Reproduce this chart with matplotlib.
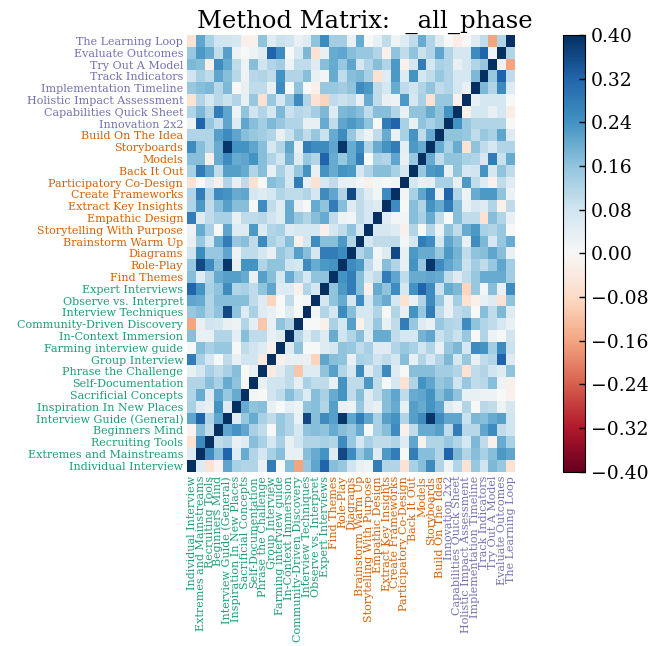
import numpy as np
import matplotlib
matplotlib.use("Agg")
import matplotlib.pyplot as plt
from matplotlib.ticker import FuncFormatter

# method names, bottom row / left column first
methods = ["Individual Interview", "Extremes and Mainstreams", "Recruiting Tools",
           "Beginners Mind", "Interview Guide (General)", "Inspiration In New Places",
           "Sacrificial Concepts", "Self-Documentation", "Phrase the Challenge",
           "Group Interview", "Farming interview guide", "In-Context Immersion",
           "Community-Driven Discovery", "Interview Techniques", "Observe vs. Interpret",
           "Expert Interviews", "Find Themes", "Role-Play", "Diagrams",
           "Brainstorm Warm Up", "Storytelling With Purpose", "Empathic Design",
           "Extract Key Insights", "Create Frameworks", "Participatory Co-Design",
           "Back It Out", "Models", "Storyboards", "Build On The Idea", "Innovation 2x2",
           "Capabilities Quick Sheet", "Holistic Impact Assessment",
           "Implementation Timeline", "Track Indicators", "Try Out A Model",
           "Evaluate Outcomes", "The Learning Loop"]

# phase of each method (0 discovery, 1 ideation, 2 implementation)
phases = [0] * 16 + [1] * 13 + [2] * 8
phase_colors = ["#1b9e77", "#d95f02", "#7570b3"]

# lower triangle of the correlation matrix, row r holds columns 0..r-1
corr_lower = [
    [0.05],
    [-0.06, 0.25],
    [-0.01, 0.17, 0.10],
    [0.21, 0.32, 0.12, 0.21],
    [0.13, 0.05, 0.03, 0.24, 0.05],
    [0.12, 0.20, 0.05, 0.21, 0.15, 0.20],
    [0.12, 0.12, 0.17, 0.13, 0.20, 0.16, 0.01],
    [0.03, 0.07, 0.13, 0.10, 0.13, 0.17, 0.0, 0.03],
    [0.28, 0.13, 0.07, 0.0, 0.10, 0.03, 0.08, 0.08, -0.04],
    [0.0, 0.17, 0.13, 0.15, 0.15, 0.0, 0.10, 0.08, 0.05, -0.02],
    [0.17, 0.03, 0.03, 0.12, 0.12, 0.04, 0.17, 0.10, 0.10, 0.03, 0.05],
    [-0.16, 0.03, 0.08, 0.07, 0.03, 0.02, 0.12, 0.04, -0.11, 0.03, 0.16, 0.12],
    [0.15, 0.17, 0.12, 0.16, 0.36, 0.16, 0.05, 0.13, 0.05, 0.03, 0.0, 0.05, 0.0],
    [0.21, 0.20, 0.12, 0.17, 0.17, 0.17, 0.17, 0.10, 0.05, -0.09, 0.0, 0.10, 0.0, 0.01],
    [0.32, 0.24, 0.13, 0.16, 0.25, 0.12, 0.13, 0.10, 0.16, 0.21, 0.05, 0.05, -0.02, 0.12, 0.07],
    [0.17, 0.05, 0.12, 0.20, 0.22, 0.22, 0.20, 0.03, 0.22, 0.17, 0.07, 0.20, 0.13, 0.07, 0.16, 0.16],
    [0.15, 0.36, 0.25, 0.17, 0.39, 0.03, 0.24, 0.24, 0.12, 0.16, 0.16, 0.08, 0.07, 0.25, 0.20,
     0.23, 0.24],
    [0.08, 0.25, 0.15, 0.15, 0.21, 0.02, 0.10, 0.10, 0.07, 0.03, 0.15, 0.12, 0.22, 0.17, 0.07,
     0.28, 0.28, 0.25],
    [0.03, 0.15, 0.07, 0.20, 0.28, 0.15, 0.17, 0.10, 0.25, 0.13, 0.10, 0.17, -0.02, 0.07, 0.25,
     0.17, 0.17, 0.23, 0.12],
    [0.02, 0.20, 0.13, 0.0, 0.21, 0.05, 0.05, 0.23, 0.05, 0.12, 0.13, 0.05, 0.07, 0.07, 0.07,
     -0.02, 0.07, 0.10, 0.16, 0.07],
    [0.28, 0.05, 0.10, 0.13, 0.13, 0.03, 0.10, 0.10, 0.11, 0.08, 0.05, 0.20, 0.15, 0.12, 0.17,
     0.20, 0.10, 0.02, 0.01, 0.10, 0.07],
    [0.12, 0.23, 0.10, 0.17, 0.22, 0.17, 0.17, 0.0, 0.25, 0.10, 0.05, 0.20, 0.03, 0.0, 0.20,
     0.16, 0.28, 0.17, 0.05, 0.10, 0.07, 0.05],
    [0.12, 0.28, 0.12, 0.25, 0.24, 0.20, 0.21, 0.07, 0.05, 0.07, 0.12, 0.10, 0.10, 0.12, 0.07,
     0.25, 0.21, 0.12, 0.36, 0.10, 0.05, 0.01, 0.25],
    [-0.06, 0.0, 0.05, -0.02, 0.12, 0.03, 0.10, -0.06, 0.0, 0.17, 0.15, 0.07, 0.28, 0.03, -0.06,
     0.07, 0.10, 0.03, 0.03, 0.01, -0.02, 0.01, 0.0, 0.01],
    [0.13, 0.28, 0.21, 0.10, 0.22, 0.22, 0.20, 0.12, 0.17, 0.03, 0.13, 0.07, 0.15, 0.24, 0.03,
     0.24, 0.20, 0.24, 0.23, 0.07, 0.12, 0.17, 0.17, 0.13, 0.07],
    [0.17, 0.17, -0.02, 0.20, 0.25, 0.20, 0.21, 0.24, 0.17, 0.12, 0.08, 0.19, 0.05, 0.15, 0.12,
     0.32, 0.20, 0.15, 0.20, 0.28, 0.0, 0.13, 0.12, 0.21, 0.03, 0.15],
    [0.25, 0.17, 0.12, 0.20, 0.39, 0.24, 0.24, 0.21, 0.17, 0.07, 0.12, 0.21, 0.03, 0.28, 0.25,
     0.25, 0.21, 0.39, 0.20, 0.25, 0.12, 0.20, 0.24, 0.28, 0.04, 0.23, 0.20],
    [0.12, 0.12, 0.12, 0.22, 0.25, 0.21, 0.17, 0.15, 0.14, 0.12, 0.03, 0.09, 0.15, 0.10, 0.15,
     0.09, 0.20, 0.25, 0.15, 0.07, 0.02, 0.10, 0.20, 0.03, 0.13, 0.24, 0.10, 0.20],
    [0.02, 0.32, 0.15, 0.10, 0.21, 0.05, 0.21, 0.17, 0.14, 0.18, 0.15, 0.12, 0.12, 0.03, 0.03,
     0.20, 0.10, 0.21, 0.23, 0.21, 0.16, 0.0, 0.28, 0.32, 0.13, 0.03, 0.16, 0.13, 0.16],
    [0.12, 0.18, 0.12, 0.28, 0.21, 0.02, 0.16, 0.08, 0.12, 0.07, 0.18, 0.09, 0.11, 0.10, 0.14,
     0.18, 0.05, 0.18, 0.19, 0.17, 0.10, 0.17, 0.17, 0.12, 0.03, 0.16, 0.16, 0.20, 0.16, 0.24],
    [-0.06, 0.12, 0.07, 0.11, 0.09, 0.12, 0.03, 0.15, -0.06, 0.15, 0.07, 0.15, 0.25, 0.12, -0.06,
     -0.09, 0.10, 0.09, 0.10, 0.03, 0.20, 0.10, 0.03, 0.02, 0.23, 0.07, 0.13, -0.06, 0.15, 0.15,
     -0.02],
    [0.15, 0.17, 0.18, 0.11, 0.18, 0.0, 0.03, 0.10, 0.10, 0.03, 0.25, 0.0, 0.16, 0.0, -0.02,
     0.15, 0.15, 0.14, 0.16, 0.25, 0.23, 0.10, 0.07, 0.20, 0.10, 0.08, 0.12, 0.16, 0.10, 0.12,
     0.07, 0.03],
    [0.08, 0.13, 0.10, 0.21, 0.17, 0.11, 0.02, 0.11, 0.12, 0.10, 0.24, 0.12, 0.12, 0.17, 0.03,
     0.01, 0.20, 0.10, 0.17, 0.18, 0.13, -0.06, 0.05, 0.23, 0.05, 0.24, 0.07, 0.10, 0.15, 0.12,
     0.07, 0.07, 0.18],
    [0.18, 0.17, -0.02, 0.25, 0.20, 0.10, 0.02, 0.17, 0.08, 0.12, 0.14, 0.02, 0.10, 0.10, 0.05,
     0.17, 0.20, 0.15, 0.21, 0.07, 0.12, 0.17, 0.12, 0.23, -0.02, 0.07, 0.28, 0.07, 0.13, 0.12,
     0.03, 0.07, 0.12, 0.15],
    [0.15, 0.23, 0.20, 0.10, 0.22, 0.02, 0.0, 0.02, 0.05, 0.32, 0.25, 0.0, 0.07, 0.18, -0.06,
     0.03, 0.20, 0.21, 0.17, 0.15, 0.15, 0.12, -0.02, 0.16, 0.10, 0.16, 0.09, 0.12, 0.21, 0.12,
     0.07, 0.07, 0.25, 0.32, 0.02],
    [-0.06, 0.21, 0.13, 0.08, 0.08, 0.07, -0.02, -0.02, 0.16, 0.05, 0.09, 0.08, 0.03, 0.05, 0.16,
     0.25, 0.14, 0.14, 0.03, 0.20, 0.0, 0.03, 0.10, 0.02, 0.05, 0.10, 0.20, 0.12, 0.05, 0.0,
     -0.03, 0.0, 0.05, 0.10, -0.16, 0.12],
]

cbar_ticks = [-0.40, -0.32, -0.24, -0.16, -0.08, 0.0, 0.08, 0.16, 0.24, 0.32, 0.40]

# build the full symmetric matrix
n = len(methods)
corr = np.eye(n)
for r, row in enumerate(corr_lower, start=1):
    corr[r, :r] = row
    corr[:r, r] = row

plt.rcParams['font.family'] = 'DejaVu Serif'

fig = plt.figure(figsize=(6.66, 6.46), dpi=100)
ax = fig.add_axes([0.2815, 0.2698, 0.4917, 0.676])
cax = fig.add_axes([0.8449, 0.2698, 0.0335, 0.676])

mesh = ax.pcolormesh(corr, cmap='RdBu', vmin=-0.4, vmax=0.4)
ax.set_xlim(0, n)
ax.set_ylim(0, n)
ax.set_xticks(np.arange(n) + 0.5)
ax.set_yticks(np.arange(n) + 0.5)
ax.set_xticklabels(methods, rotation=90, fontsize=8)
ax.set_yticklabels(methods, fontsize=8)
ax.tick_params(length=0, pad=3)
for lab, ph in zip(ax.get_xticklabels(), phases):
    lab.set_color(phase_colors[ph])
for lab, ph in zip(ax.get_yticklabels(), phases):
    lab.set_color(phase_colors[ph])
for sp in ax.spines.values():
    sp.set_visible(False)
ax.set_title("Method Matrix:  _all_phase", fontsize=17.5, pad=5, x=0.543)

cb = fig.colorbar(mesh, cax=cax, ticks=cbar_ticks)
cb.ax.yaxis.set_major_formatter(FuncFormatter(lambda v, p: f"{v:.2f}".replace("-", "\u2212")))
cb.ax.tick_params(direction='in', length=4, width=1, labelsize=13.5, pad=4)
cb.outline.set_linewidth(0.8)

fig.savefig("out.png", dpi=100)
